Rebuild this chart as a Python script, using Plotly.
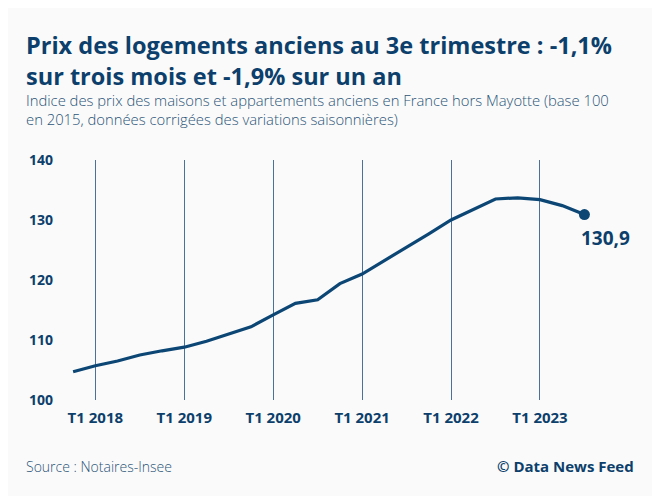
import plotly.graph_objects as go

quarters = ["T4 2017",
            "T1 2018", "T2 2018", "T3 2018", "T4 2018",
            "T1 2019", "T2 2019", "T3 2019", "T4 2019",
            "T1 2020", "T2 2020", "T3 2020", "T4 2020",
            "T1 2021", "T2 2021", "T3 2021", "T4 2021",
            "T1 2022", "T2 2022", "T3 2022", "T4 2022",
            "T1 2023", "T2 2023", "T3 2023"]
index_values = [104.7,
                105.7, 106.5, 107.5, 108.2,
                108.8, 109.8, 111.0, 112.2,
                114.2, 116.1, 116.7, 119.4,
                121.0, 123.2, 125.4, 127.7,
                130.0, 131.7, 133.5, 133.7,
                133.4, 132.4, 130.9]
tick_labels = ["T1 2018", "T1 2019", "T1 2020", "T1 2021", "T1 2022", "T1 2023"]
y_ticks = [100, 110, 120, 130, 140]
last_label = "130,9"

title = "Prix des logements anciens au 3e trimestre : -1,1%<br>sur trois mois et -1,9% sur un an"
subtitle = ("Indice des prix des maisons et appartements anciens en France hors Mayotte (base 100"
            "<br>en 2015, données corrigées des variations saisonnières)")
source = "Source : Notaires-Insee"
credit = "© Data News Feed"

NAVY = "#0c3f6b"
LINE = "#0b4675"
GRID = "#4a7299"
SUB = "#2a5478"
BG = "#fafafa"
FONT = "Open Sans"

OFF = 8  # page body margin (top/left)
W, H = 660 - OFF, 496 - OFF
L, R, T, B = 62 - OFF, 20, 160 - OFF, 96
PW, PH = W - L - R, H - T - B


def px(x):
    return (x - OFF - L) / PW


def py(y):
    return (H - B - (y - OFF)) / PH


fig = go.Figure()
fig.add_trace(go.Scatter(
    x=quarters, y=index_values, mode="lines",
    line=dict(color=LINE, width=3.2), hoverinfo="skip", showlegend=False))
fig.add_trace(go.Scatter(
    x=[quarters[-1]], y=[index_values[-1]], mode="markers",
    marker=dict(color=LINE, size=11), hoverinfo="skip", showlegend=False))

fig.add_annotation(x=quarters[-1], y=index_values[-1], xref="x", yref="y",
                   text=last_label, showarrow=False, xanchor="left", yanchor="top",
                   xshift=-5, yshift=-8,
                   font=dict(family=FONT, size=19, color=NAVY, weight="bold"))

fig.add_annotation(x=px(24), y=py(26.5), xref="paper", yref="paper", text=title,
                   showarrow=False, xanchor="left", yanchor="top", align="left",
                   font=dict(family=FONT, size=23.5, color=NAVY, weight="bold"))
fig.add_annotation(x=px(24), y=py(88), xref="paper", yref="paper", text=subtitle,
                   showarrow=False, xanchor="left", yanchor="top", align="left",
                   font=dict(family=FONT, size=14.8, color=SUB, weight=300))
fig.add_annotation(x=px(24), y=py(466), xref="paper", yref="paper", text=source,
                   showarrow=False, xanchor="left", yanchor="middle", align="left",
                   font=dict(family=FONT, size=14, color=SUB, weight=300))
fig.add_annotation(x=px(636), y=py(466), xref="paper", yref="paper", text=credit,
                   showarrow=False, xanchor="right", yanchor="middle", align="right",
                   font=dict(family=FONT, size=15, color=NAVY, weight="bold"))

fig.update_xaxes(type="category", categoryorder="array", categoryarray=quarters,
                 range=[-0.5, 25.5], tickmode="array", tickvals=tick_labels, ticktext=tick_labels,
                 showgrid=True, gridcolor=GRID, gridwidth=1, zeroline=False, showline=False,
                 ticks="", ticklabelstandoff=7,
                 tickfont=dict(family=FONT, size=15, color=NAVY, weight="bold"),
                 fixedrange=True)
fig.update_yaxes(range=[100, 140], tickmode="array", tickvals=y_ticks,
                 showgrid=False, zeroline=False, showline=False, ticks="",
                 ticklabelstandoff=8,
                 tickfont=dict(family=FONT, size=14, color=NAVY, weight="bold"),
                 fixedrange=True)

fig.update_layout(width=W, height=H, margin=dict(l=L, r=R, t=T, b=B),
                  paper_bgcolor=BG, plot_bgcolor=BG, showlegend=False,
                  font=dict(family=FONT, color=NAVY))

fig.write_html("out.html", config={"displayModeBar": False})
